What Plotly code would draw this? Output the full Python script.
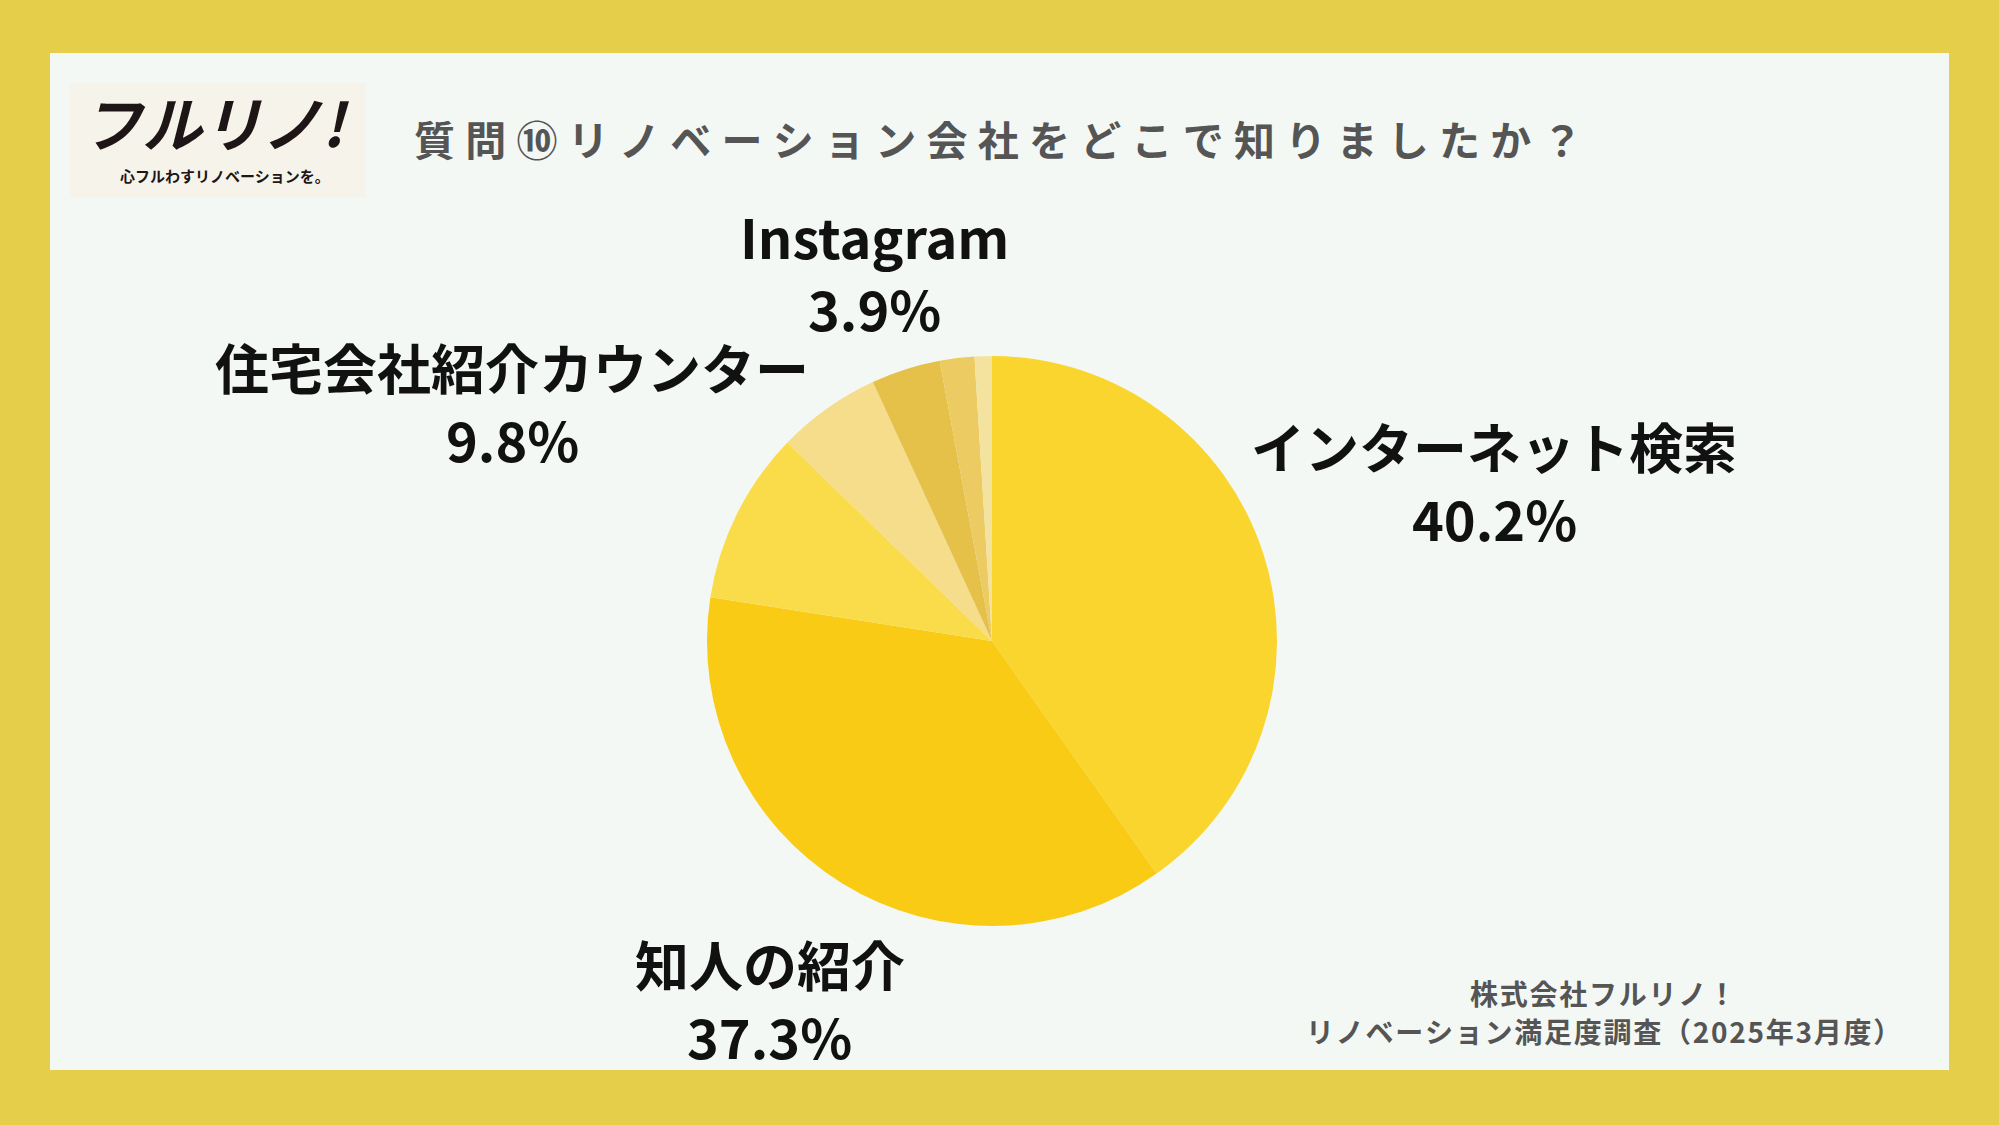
import math
import plotly.graph_objects as go

W, H = 1999, 1125

categories = ["インターネット検索", "知人の紹介", "住宅会社紹介カウンター", "その他", "Instagram", "YouTube", "チラシ"]
counts = [41, 38, 10, 6, 4, 2, 1]
show_label = [True, True, True, False, True, False, False]
label_radius = [1.85, 1.48, 1.88, 0, 1.36, 0, 0]
colors = ["#F9D52E", "#F9CB14", "#FADB4A", "#F5DD8C", "#E5C14A", "#EBCB62", "#F3E39E"]

title_text = "質問⑩リノベーション会社をどこで知りましたか？"
footer_lines = ["株式会社フルリノ！", "リノベーション満足度調査（2025年3月度）"]

FONT = "Noto Sans CJK JP"
BORDER = "#E5CE4A"
PANEL = "#F4F8F4"

# pie geometry (pixels)
CX, CY, R = 992, 641, 285
LINE_HALF = 36  # half the gap between label lines (px)

fig = go.Figure()
fig.add_trace(go.Pie(
    labels=categories, values=counts, sort=False, direction="clockwise", rotation=0,
    marker=dict(colors=colors, line=dict(width=0)),
    textinfo="none", showlegend=False,
    domain=dict(x=[(CX - R) / W, (CX + R) / W], y=[(H - CY - R) / H, (H - CY + R) / H]),
))

annotations = []
total = sum(counts)
cum = 0
for cat, v, show, f in zip(categories, counts, show_label, label_radius):
    mid = (cum + v / 2) / total * 2 * math.pi
    cum += v
    if not show:
        continue
    px = CX + f * R * math.sin(mid)
    py = CY - f * R * math.cos(mid)
    for txt, dy in ((cat, -LINE_HALF), (f"{v / total * 100:.1f}%", LINE_HALF)):
        annotations.append(dict(
            x=px / W, y=1 - (py + dy) / H, xref="paper", yref="paper", xanchor="center", yanchor="middle",
            text=f"<b>{txt}</b>", showarrow=False,
            font=dict(family=FONT, size=54, color="#111111"), align="center",
        ))

spaced_title = "\u2005".join(title_text)
annotations.append(dict(
    x=412 / W, y=1 - 138 / H, xref="paper", yref="paper", xanchor="left", yanchor="middle",
    text=f"<b>{spaced_title}</b>", showarrow=False,
    font=dict(family=FONT, size=41, color="#555555"),
))

for i, line in enumerate(footer_lines):
    annotations.append(dict(
        x=1603 / W, y=1 - (993 + 38 * i) / H, xref="paper", yref="paper", xanchor="center", yanchor="middle",
        text=f"<b>{'\u200a'.join(line)}</b>", showarrow=False,
        font=dict(family=FONT, size=28, color="#555555"), align="center",
    ))

# logo
annotations.append(dict(
    x=215 / W, y=1 - 120 / H, xref="paper", yref="paper", xanchor="center", yanchor="middle",
    text="<b><i>フルリノ!</i></b>", showarrow=False,
    font=dict(family=FONT, size=60, color="#1E1616"),
))
annotations.append(dict(
    x=225 / W, y=1 - 176 / H, xref="paper", yref="paper", xanchor="center", yanchor="middle",
    text="<b>心フルわすリノベーションを。</b>", showarrow=False,
    font=dict(family=FONT, size=15, color="#1E1616"),
))

shapes = [
    dict(type="rect", xref="paper", yref="paper", x0=50 / W, x1=1949 / W, y0=1 - 1070 / H, y1=1 - 53 / H,
         fillcolor=PANEL, line=dict(width=0), layer="below"),
    dict(type="rect", xref="paper", yref="paper", x0=70 / W, x1=366 / W, y0=1 - 198 / H, y1=1 - 83 / H,
         fillcolor="#F6F4EA", line=dict(width=0), layer="below"),
]

fig.update_layout(
    width=W, height=H, margin=dict(l=0, r=0, t=0, b=0),
    paper_bgcolor=BORDER, plot_bgcolor=BORDER,
    annotations=annotations, shapes=shapes,
    font=dict(family=FONT),
)

fig.write_html("out.html")
